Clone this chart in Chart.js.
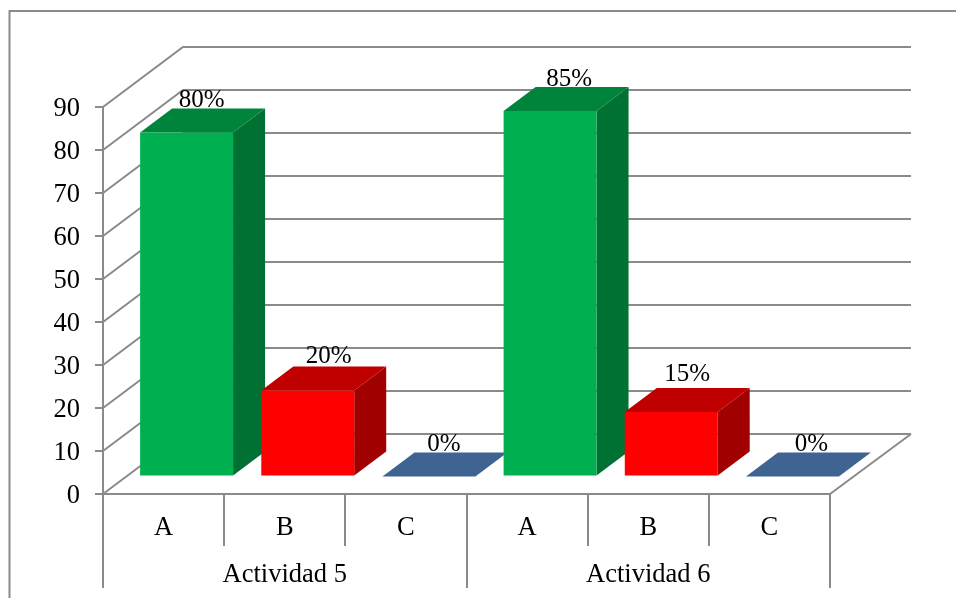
<!DOCTYPE html>
<html>
<head>
<meta charset="utf-8">
<style>
  html, body { margin: 0; padding: 0; background: #fff; overflow: hidden; }
  #wrap { position: relative; width: 956px; height: 598px; }
</style>
<script src="https://cdn.jsdelivr.net/npm/chart.js@4"></script>
</head>
<body>
<div id="wrap"><canvas id="chart"></canvas></div>
<script>
const categories = ['A', 'B', 'C', 'A', 'B', 'C'];
const groups = ['Actividad 5', 'Actividad 6'];
const values = [80, 20, 0, 85, 15, 0];
const frontColors = ['#00B050', '#FF0000', '#3F6491', '#00B050', '#FF0000', '#3F6491'];
const topColors = ['#00843C', '#C00000', '#3F6491', '#00843C', '#C00000', '#3F6491'];
const sideColors = ['#007033', '#A00000', '#3F6491', '#007033', '#A00000', '#3F6491'];

const LINE = '#8A8A8A';
const FONT_FAMILY = 'Liberation Serif';
// 3D look: wall depth, bar shift inside the floor, bar depth
const WALL = { dx: 80, dy: -60 };
const SHIFT = { dx: 23, dy: -17.5 };
const BAR = { dx: 32, dy: -24 };
// the labels were placed by hand in the original
const LABEL_NUDGE = [[-1, -2], [5, -4], [-1, -2], [3, -1], [0, -7], [3, -2]];

function poly(ctx, pts, fill) {
  ctx.beginPath();
  pts.forEach((p, i) => i ? ctx.lineTo(p[0], p[1]) : ctx.moveTo(p[0], p[1]));
  ctx.closePath();
  ctx.fillStyle = fill;
  ctx.fill();
}

const walls = {
  id: 'walls',
  beforeDatasetsDraw(chart) {
    const { ctx, scales: { x, y } } = chart;
    const left = x.left, right = x.right;
    ctx.save();
    ctx.strokeStyle = LINE;
    ctx.lineWidth = 2;
    // outer chart frame, cut off by the picture on the right and bottom
    ctx.beginPath();
    ctx.moveTo(9.5, 700);
    ctx.lineTo(9.5, 11);
    ctx.lineTo(1000, 11);
    ctx.stroke();
    y.ticks.forEach(t => {
      const py = y.getPixelForValue(t.value);
      ctx.beginPath();
      ctx.moveTo(left, py);
      ctx.lineTo(left + WALL.dx, py + WALL.dy);
      ctx.lineTo(right + WALL.dx + 1, py + WALL.dy);
      ctx.stroke();
    });
    const py0 = y.getPixelForValue(0);
    ctx.beginPath();
    ctx.moveTo(right, py0);
    ctx.lineTo(right + WALL.dx + 1, py0 + WALL.dy);
    ctx.stroke();
    ctx.restore();

    // sides and tops of the bars go under the front faces
    const meta = chart.getDatasetMeta(0);
    ctx.save();
    meta.data.forEach((bar, i) => {
      const x0 = bar.x - bar.width / 2 + SHIFT.dx;
      const x1 = bar.x + bar.width / 2 + SHIFT.dx;
      const yt = bar.y + SHIFT.dy;
      const yb = bar.base + SHIFT.dy;
      poly(ctx, [[x1, yt], [x1 + BAR.dx, yt + BAR.dy], [x1 + BAR.dx, yb + BAR.dy], [x1, yb]], sideColors[i]);
      poly(ctx, [[x0, yt], [x1, yt], [x1 + BAR.dx, yt + BAR.dy], [x0 + BAR.dx, yt + BAR.dy]], topColors[i]);
    });
    ctx.restore();
  },
  beforeDatasetDraw(chart) {
    chart.ctx.save();
    chart.ctx.translate(SHIFT.dx, SHIFT.dy);
  },
  afterDatasetDraw(chart) {
    chart.ctx.restore();
  },
  afterDatasetsDraw(chart) {
    const { ctx } = chart;
    const meta = chart.getDatasetMeta(0);
    ctx.save();
    ctx.font = `25px '${FONT_FAMILY}'`;
    ctx.fillStyle = '#000';
    ctx.textAlign = 'center';
    ctx.textBaseline = 'alphabetic';
    meta.data.forEach((bar, i) => {
      const n = LABEL_NUDGE[i];
      ctx.fillText(values[i] + '%', bar.x + SHIFT.dx + BAR.dx / 2 + n[0], bar.y + SHIFT.dy + BAR.dy + n[1]);
    });
    ctx.restore();
  }
};

new Chart(document.getElementById('chart'), {
  type: 'bar',
  data: {
    labels: categories,
    datasets: [{
      data: values,
      backgroundColor: frontColors,
      borderWidth: 0,
      barPercentage: 0.767,
      categoryPercentage: 1
    }]
  },
  plugins: [walls],
  options: {
    responsive: true,
    maintainAspectRatio: false,
    animation: false,
    layout: { padding: { top: 107, right: 126, bottom: 10, left: 0 } },
    plugins: { legend: { display: false }, tooltip: { enabled: false } },
    scales: {
      y: {
        min: 0,
        max: 90,
        afterFit: s => { s.width = 103; },
        ticks: { stepSize: 10, color: '#000', padding: 15, labelOffset: 2, font: { family: FONT_FAMILY, size: 26.5 } },
        border: { color: LINE, width: 2 },
        grid: { drawOnChartArea: false, color: LINE, lineWidth: 2, tickLength: 8 }
      },
      x: {
        weight: 1,
        afterFit: s => { s.height = 52; },
        ticks: { color: '#000', padding: -34, maxRotation: 0, font: { family: FONT_FAMILY, size: 26.5 } },
        border: { color: LINE, width: 2 },
        grid: { drawOnChartArea: false, offset: true, color: LINE, lineWidth: 2, tickLength: 52 }
      },
      x2: {
        type: 'category',
        labels: groups,
        position: 'bottom',
        weight: 2,
        afterFit: s => { s.height = 42; },
        ticks: { color: '#000', padding: -29, maxRotation: 0, font: { family: FONT_FAMILY, size: 26.5 } },
        border: { display: false },
        grid: { drawOnChartArea: false, offset: true, color: LINE, lineWidth: 2, tickLength: 42 }
      }
    }
  }
});
</script>
</body>
</html>
